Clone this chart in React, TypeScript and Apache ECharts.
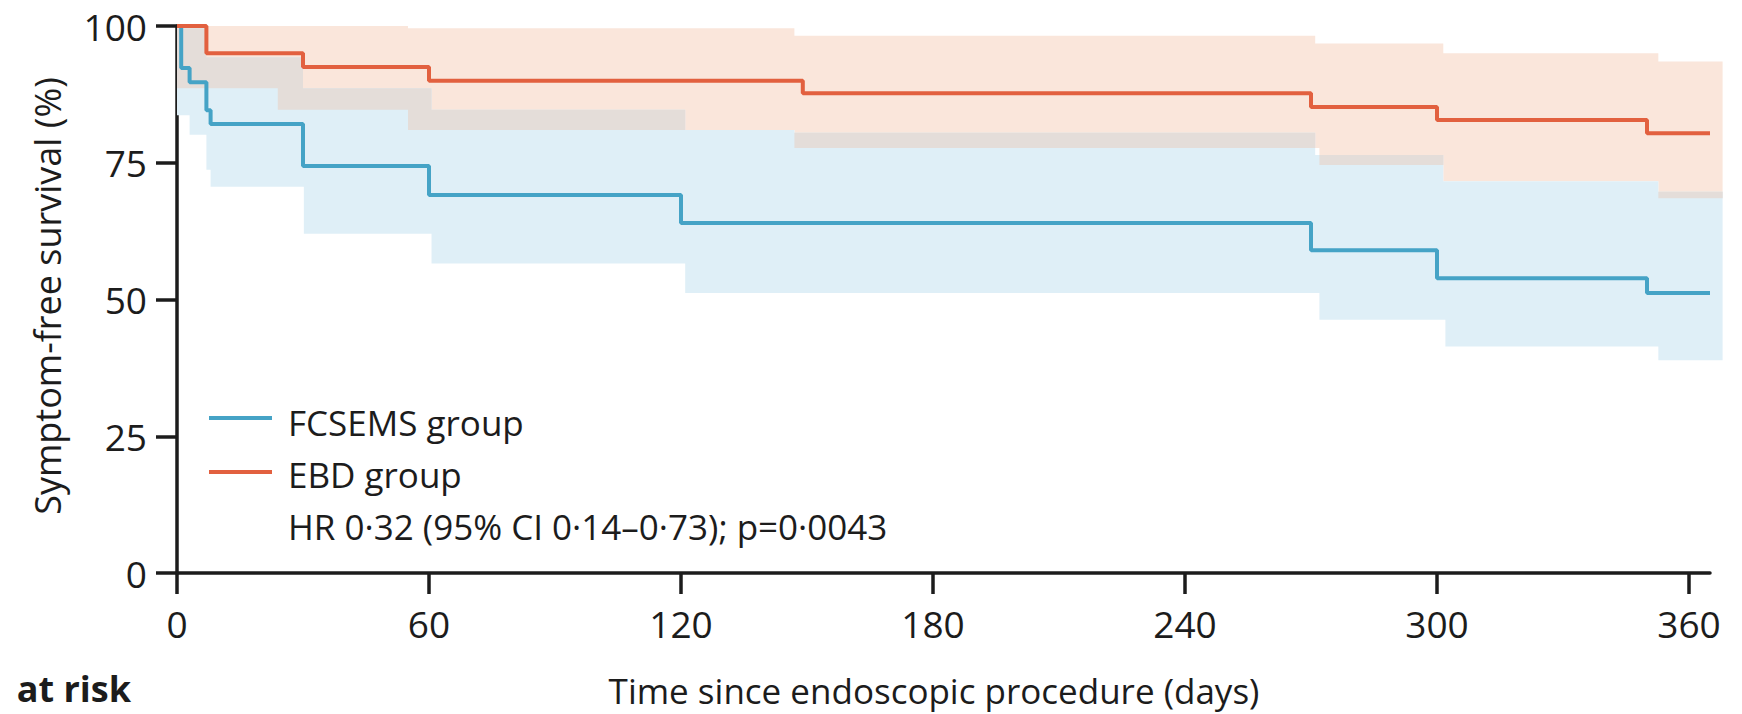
import React, { useEffect, useRef } from "react";
import * as echarts from "echarts";

// ---- Kaplan–Meier estimates (days, % symptom-free) ----
const fcsemsTimes = [0, 1, 3, 7, 8, 30, 60, 120, 270, 300, 350, 365];
const fcsemsSurvival = [100, 92.3, 89.7, 84.6, 82.1, 74.4, 69.1, 64.0, 59.0, 53.9, 51.2, 51.2];
const ebdTimes = [0, 7, 30, 60, 149, 270, 300, 350, 365];
const ebdSurvival = [100, 95.0, 92.5, 90.0, 87.7, 85.2, 82.8, 80.4, 80.4];

// ---- 95% confidence bands (value holds from time until next time) ----
const fcsemsUpperTimes = [0, 7, 30, 60.6, 121, 147, 271, 301.5, 352.7];
const fcsemsUpper = [99.6, 94.3, 88.6, 84.7, 81.0, 80.5, 76.4, 71.6, 69.7];
const fcsemsLowerTimes = [0, 3, 7, 8, 30.2, 60.6, 121, 272, 302, 352.7];
const fcsemsLower = [83.7, 80.1, 73.7, 70.6, 62.0, 56.6, 51.2, 46.3, 41.4, 38.9];
const ebdUpperTimes = [0, 55, 147, 271, 301.5, 352.7];
const ebdUpper = [100, 99.6, 98.2, 96.8, 95.0, 93.5];
const ebdLowerTimes = [0, 24, 55, 147, 272, 301.5, 352.7];
const ebdLower = [88.6, 84.7, 81.0, 77.7, 74.6, 71.6, 68.5];
const ciEnd = 368;

// ---- axes ----
const xMin = 0;
const xMax = 365;
const xInterval = 60;
const yMin = 0;
const yMax = 100;
const yInterval = 25;

const seriesNames = ["FCSEMS group", "EBD group"];
const hrText = "HR 0·32 (95% CI 0·14–0·73); p=0·0043";
const xAxisTitle = "Time since endoscopic procedure (days)";
const yAxisTitle = "Symptom-free survival (%)";
const atRiskText = "at risk";

const BLUE = "#45a3c6";
const ORANGE = "#e2603f";
const BLUE_BAND = "#dfeff7";
const ORANGE_BAND = "#fae6db";
const OVERLAP_BAND = "#e4ddd9";
const INK = "#1c1c1c";
const FONT = "'Open Sans', 'Noto Sans', sans-serif";

function stepAt(times: number[], values: number[], t: number): number {
  let v = values[0];
  for (let i = 0; i < times.length; i++) if (times[i] <= t) v = values[i];
  return v;
}

function buildBand(
  cutSets: number[][],
  top: (t: number) => number,
  bottom: (t: number) => number,
  end: number
): number[][] {
  const cuts = Array.from(new Set(cutSets.flat())).sort((a, b) => a - b);
  const up: number[][] = [];
  const lo: number[][] = [];
  cuts.forEach((a, i) => {
    const b = i + 1 < cuts.length ? cuts[i + 1] : end;
    const u = top(a);
    const l = Math.min(u, bottom(a));
    up.push([a, u], [b, u]);
    lo.push([a, l], [b, l]);
  });
  return up.concat(lo.reverse());
}

const fU = (t: number) => stepAt(fcsemsUpperTimes, fcsemsUpper, t);
const fL = (t: number) => stepAt(fcsemsLowerTimes, fcsemsLower, t);
const eU = (t: number) => stepAt(ebdUpperTimes, ebdUpper, t);
const eL = (t: number) => stepAt(ebdLowerTimes, ebdLower, t);

const bands = [
  { color: ORANGE_BAND, points: buildBand([ebdUpperTimes, ebdLowerTimes], eU, eL, ciEnd) },
  { color: BLUE_BAND, points: buildBand([fcsemsUpperTimes, fcsemsLowerTimes], fU, fL, ciEnd) },
  {
    color: OVERLAP_BAND,
    points: buildBand(
      [fcsemsUpperTimes, fcsemsLowerTimes, ebdUpperTimes, ebdLowerTimes],
      (t) => Math.min(fU(t), eU(t)),
      (t) => Math.max(fL(t), eL(t)),
      ciEnd
    ),
  },
];

export default function App() {
  const ref = useRef<HTMLDivElement>(null);

  useEffect(() => {
    if (!ref.current) return;
    const chart = echarts.init(ref.current, null, { renderer: "svg" });

    const axisCommon = {
      axisLine: { show: true, lineStyle: { color: INK, width: 3.5 } },
      axisTick: { show: true, inside: false, length: 21, lineStyle: { color: INK, width: 3.5 } },
      splitLine: { show: false },
    };

    chart.setOption({
      animation: false,
      backgroundColor: "#ffffff",
      textStyle: { fontFamily: FONT },
      grid: { left: 177, right: 32, top: 26, bottom: 141, containLabel: false, outerBoundsMode: "none" },
      xAxis: {
        type: "value",
        min: xMin,
        max: xMax,
        interval: xInterval,
        ...axisCommon,
        axisLabel: { color: INK, fontSize: 37, fontFamily: FONT, margin: 32 },
      },
      yAxis: {
        type: "value",
        min: yMin,
        max: yMax,
        interval: yInterval,
        ...axisCommon,
        axisLabel: { color: INK, fontSize: 37, fontFamily: FONT, margin: 30 },
      },
      series: [
        {
          type: "custom",
          silent: true,
          clip: false,
          renderItem: (params: any, api: any) => {
            const band = bands[params.dataIndex];
            return {
              type: "polygon",
              shape: { points: band.points.map((p) => api.coord(p)) },
              style: { fill: band.color, stroke: null },
            };
          },
          data: bands.map(() => [0, 0]),
          z: 1,
        },
        {
          name: seriesNames[0],
          type: "line",
          step: "end",
          symbol: "none",
          showSymbol: false,
          lineStyle: { color: BLUE, width: 4 },
          data: fcsemsTimes.map((t, i) => [t, fcsemsSurvival[i]]),
          z: 3,
        },
        {
          name: seriesNames[1],
          type: "line",
          step: "end",
          symbol: "none",
          showSymbol: false,
          lineStyle: { color: ORANGE, width: 4 },
          data: ebdTimes.map((t, i) => [t, ebdSurvival[i]]),
          z: 4,
        },
      ],
      graphic: [
        {
          type: "line",
          shape: { x1: 209, y1: 418, x2: 272, y2: 418 },
          style: { stroke: BLUE, lineWidth: 4 },
        },
        {
          type: "line",
          shape: { x1: 209, y1: 472, x2: 272, y2: 472 },
          style: { stroke: ORANGE, lineWidth: 4 },
        },
        {
          type: "text",
          x: 288,
          y: 422,
          style: { text: seriesNames[0], fill: INK, font: `35px ${FONT}`, textVerticalAlign: "middle" },
        },
        {
          type: "text",
          x: 288,
          y: 474,
          style: { text: seriesNames[1], fill: INK, font: `35px ${FONT}`, textVerticalAlign: "middle" },
        },
        {
          type: "text",
          x: 288,
          y: 526,
          style: { text: hrText, fill: INK, font: `35px ${FONT}`, textVerticalAlign: "middle" },
        },
        {
          type: "text",
          x: 934,
          y: 690,
          style: {
            text: xAxisTitle,
            fill: INK,
            font: `35px ${FONT}`,
            textAlign: "center",
            textVerticalAlign: "middle",
          },
        },
        {
          type: "text",
          x: 47,
          y: 296,
          rotation: Math.PI / 2,
          style: {
            text: yAxisTitle,
            fill: INK,
            font: `36px ${FONT}`,
            textAlign: "center",
            textVerticalAlign: "middle",
          },
        },
        {
          type: "text",
          x: 131,
          y: 688,
          style: {
            text: atRiskText,
            fill: INK,
            font: `bold 36px ${FONT}`,
            textAlign: "right",
            textVerticalAlign: "middle",
          },
        },
      ],
    });

    return () => chart.dispose();
  }, []);

  return (
    <div
      ref={ref}
      style={{ position: "fixed", left: 0, top: 0, width: 1742, height: 714, background: "#fff" }}
    />
  );
}
